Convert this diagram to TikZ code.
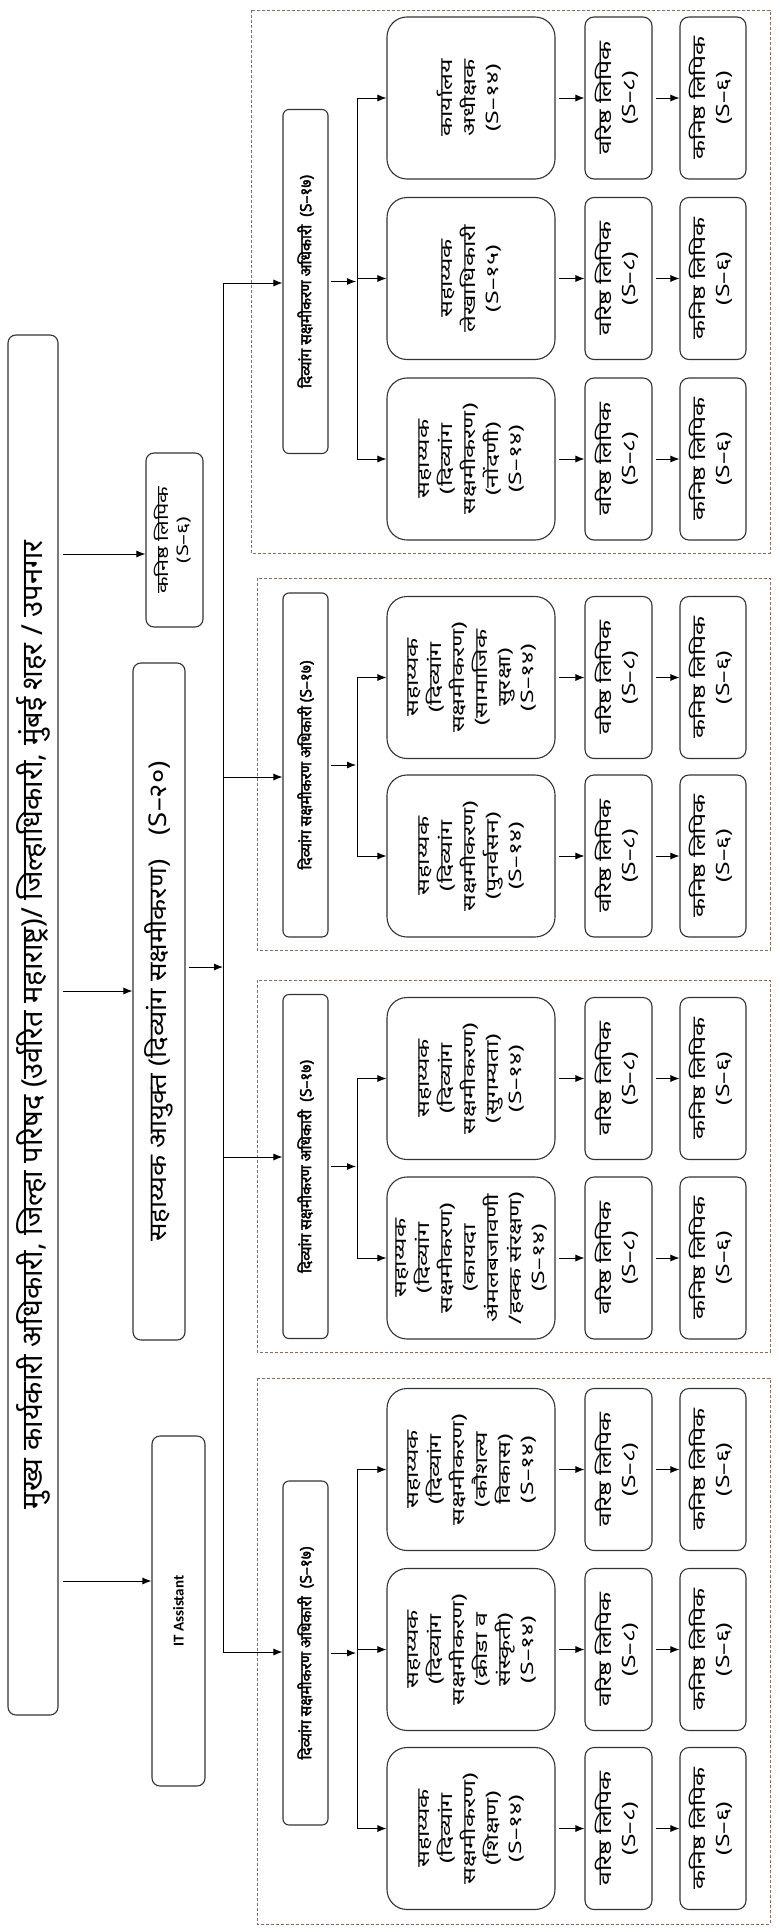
\documentclass[tikz,border=0pt]{standalone}
\usepackage{fontspec}
\usepackage{graphicx}
\usetikzlibrary{arrows.meta}
\setmainfont[Script=Devanagari]{Noto Sans}
\newfontfamily\devw[Script=Devanagari,FakeStretch=1.35]{Noto Sans}
\newfontfamily\devx[Script=Devanagari,FakeStretch=1.45]{Noto Sans}
\newfontfamily\devm[Script=Devanagari,FakeStretch=1.12]{Noto Sans}
\newfontfamily\devb[Script=Devanagari,FakeBold=2.2]{Noto Sans}
\newfontfamily\itfont{Carlito}
\definecolor{grpbrown}{HTML}{8E6A58}
\definecolor{boxline}{HTML}{333333}
\newcommand\rt[1]{\rotatebox{90}{\begin{tabular}{@{}c@{}}#1\end{tabular}}}
\tikzset{
  anybox/.style={draw=boxline, line width=1.1pt, inner sep=0pt, fill=white},
  mainbox/.style={anybox, rounded corners=8pt},
  hdrbox/.style={anybox, rounded corners=6pt, minimum width=45pt, minimum height=344pt,
     font=\devb\fontsize{15.5}{19}\selectfont},
  bigbox/.style={anybox, rounded corners=20pt, minimum width=168pt, minimum height=162pt,
     font=\devx\fontsize{17.2}{23}\selectfont},
  clerkbox/.style={anybox, rounded corners=9pt, minimum height=162pt,
     font=\devw\fontsize{18.3}{24}\selectfont},
  grp/.style={draw=grpbrown, line width=0.9pt, dash pattern=on 3pt off 2pt},
  arr/.style={draw=black, line width=0.9pt, -{Latex[length=9pt,width=7pt]}},
  ln/.style={draw=black, line width=0.9pt},
}
\newcommand\prow[3]{%
  \node[bigbox] (#1a) at (471,#2) {\rt{#3}};
  \node[clerkbox, minimum width=67pt] (#1b) at (618.5,#2) {\rt{वरिष्ठ लिपिक\\(S–८)}};
  \node[clerkbox, minimum width=66pt] (#1c) at (713,#2) {\rt{कनिष्ठ लिपिक\\(S–६)}};
  \draw[arr] ([xshift=3pt]#1a.east) -- (#1b.west);
  \draw[arr] ([xshift=3pt]#1b.east) -- (#1c.west);
  \draw[arr] (br |- #1a.west) -- (#1a.west);
}
\begin{document}
\begin{tikzpicture}[x=1pt,y=-1pt]
\useasboundingbox (0,0) rectangle (779,1932);
% dashed groups
\draw[grp] (251,10) rectangle (770,553);
\draw[grp] (257,578) rectangle (770,950);
\draw[grp] (257,980) rectangle (770,1352);
\draw[grp] (257,1378) rectangle (770,1924);
% left column
\node[mainbox, minimum width=50pt, minimum height=1380pt, font=\fontsize{29}{34}\selectfont] (main) at (33,1025)
  {\rotatebox{90}{मुख्य कार्यकारी अधिकारी, जिल्हा परिषद (उर्वरित महाराष्ट्र)/ जिल्हाधिकारी, मुंबई शहर / उपनगर}};
\node[mainbox, minimum width=57pt, minimum height=174pt, font=\devw\fontsize{16}{20}\selectfont] (kan) at (174.5,540)
  {\rt{कनिष्ठ लिपिक\\(S–६)}};
\node[mainbox, minimum width=52pt, minimum height=677pt, font=\devm\fontsize{24.5}{28}\selectfont] (ac) at (159,1001.5)
  {\rotatebox{90}{सहाय्यक आयुक्त (दिव्यांग सक्षमीकरण)\quad(S–२०)}};
\node[mainbox, minimum width=53pt, minimum height=350pt, font=\itfont\bfseries\fontsize{15}{18}\selectfont] (it) at (178.5,1611)
  {\rotatebox{90}{IT Assistant}};
\draw[arr] ([xshift=4pt]main.east |- 0,554) -- (kan.west |- 0,554);
\draw[arr] ([xshift=4pt]main.east |- 0,991) -- (ac.west |- 0,991);
\draw[arr] ([xshift=4pt]main.east |- 0,1581) -- (it.west |- 0,1581);
% trunk
\coordinate (t1) at (223,283);
\coordinate (t2) at (223,777);
\coordinate (t3) at (223,1157);
\coordinate (t4) at (223,1652);
\draw[arr] ([xshift=3pt]ac.east |- 0,967) -- (223,967);
\draw[ln] (t1) -- (t4);
% headers
\node[hdrbox] (h1) at (305.5,281.5) {\rotatebox{90}{दिव्यांग सक्षमीकरण अधिकारी\ \ (S–१७)}};
\node[hdrbox] (h2) at (305.5,765) {\rotatebox{90}{दिव्यांग सक्षमीकरण अधिकारी (S–१७)}};
\node[hdrbox] (h3) at (305.5,1166.5) {\rotatebox{90}{दिव्यांग सक्षमीकरण अधिकारी\ \ (S–१७)}};
\node[hdrbox] (h4) at (305.5,1653) {\rotatebox{90}{दिव्यांग सक्षमीकरण अधिकारी\ \ (S–१७)}};
\draw[arr] (t1) -- (h1.west |- t1);
\draw[arr] (t2) -- (h2.west |- t2);
\draw[arr] (t3) -- (h3.west |- t3);
\draw[arr] (t4) -- (h4.west |- t4);
% group 1
\coordinate (br) at (357,0);
\prow{A}{98}{कार्यालय\\अधीक्षक\\(S–१४)}
\prow{B}{278.5}{सहाय्यक\\लेखाधिकारी\\(S–१५)}
\prow{C}{459}{सहाय्यक\\(दिव्यांग\\सक्षमीकरण)\\(नोंदणी)\\(S–१४)}
\draw[ln] (br |- Aa.west) -- (br |- Ca.west);
\draw[arr] ([xshift=2pt]h1.east) -- ([xshift=-1pt]br |- h1.east);
% group 2
\prow{D}{677.5}{सहाय्यक\\(दिव्यांग\\सक्षमीकरण)\\(सामाजिक\\सुरक्षा)\\(S–१४)}
\prow{E}{856}{सहाय्यक\\(दिव्यांग\\सक्षमीकरण)\\(पुनर्वसन)\\(S–१४)}
\draw[ln] (br |- Da.west) -- (br |- Ea.west);
\draw[arr] ([xshift=2pt]h2.east) -- ([xshift=-1pt]br |- h2.east);
% group 3
\prow{F}{1078.5}{सहाय्यक\\(दिव्यांग\\सक्षमीकरण)\\(सुगम्यता)\\(S–१४)}
\prow{G}{1258}{सहाय्यक\\(दिव्यांग\\सक्षमीकरण)\\(कायदा\\अंमलबजावणी\\/हक्क संरक्षण)\\(S–१४)}
\draw[ln] (br |- Fa.west) -- (br |- Ga.west);
\draw[arr] ([xshift=2pt]h3.east) -- ([xshift=-1pt]br |- h3.east);
% group 4
\prow{H}{1469.5}{सहाय्यक\\(दिव्यांग\\सक्षमीकरण)\\(कौशल्य\\विकास)\\(S–१४)}
\prow{I}{1649.5}{सहाय्यक\\(दिव्यांग\\सक्षमीकरण)\\(क्रीडा व\\संस्कृती)\\(S–१४)}
\prow{J}{1828.5}{सहाय्यक\\(दिव्यांग\\सक्षमीकरण)\\(शिक्षण)\\(S–१४)}
\draw[ln] (br |- Ha.west) -- (br |- Ja.west);
\draw[arr] ([xshift=2pt]h4.east) -- ([xshift=-1pt]br |- h4.east);
\end{tikzpicture}
\end{document}
